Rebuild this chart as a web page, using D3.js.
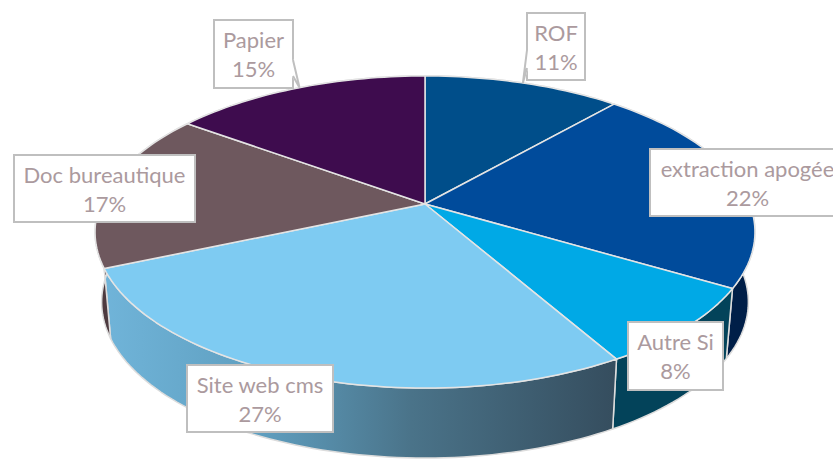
<!DOCTYPE html>
<html>
<head>
<meta charset="utf-8">
<style>
  html, body { margin: 0; padding: 0; background: #fff; overflow: hidden; }
  svg { display: block; }
  text { font-family: Lato, "Open Sans", sans-serif; }
</style>
<script src="https://cdn.jsdelivr.net/npm/d3@7"></script>
</head>
<body>
<svg></svg>
<script>
//Chart data
let categories = ['ROF', 'extraction apogée', 'Autre Si', 'Site web cms', 'Doc bureautique', 'Papier']
let values = [11.49, 22.01, 8.2, 26.8, 16.5, 15]
let percentLabels = ['11%', '22%', '8%', '27%', '17%', '15%']
let topColors = ['#004e8a', '#004b9b', '#00a9e6', '#7ecbf2', '#6e585e', '#3e0c4e']
let wallColors = ['#003a66', '#001f48', '#03435a', 'url(#siteWall)', '#4d3a3f', '#2b0836']

//Canvas size
let width = 833
let height = 459

//Perspective of the pie: back radius is shorter than the front one
let centerX = 425
let centerY = 204
let radiusX = 324.6
let radiusY = 151
let tilt = 0.1795
let depth = 70
let bottomShrink = 0.98

//Label boxes, in the same order as the categories: left, top, width, height
let labelBoxes = [
    [527, 13, 58, 67],
    [650, 149, 195, 67],
    [628, 322, 95, 68],
    [187, 365, 146, 67],
    [14, 155, 181, 67],
    [214, 20, 79, 68]
]

let svg = d3.select('svg')
    .attr('width', width)
    .attr('height', height)

//Turn a pie angle (0 = top, clockwise) into a point of the top face
let project = (angle) => {
    let w = 1 + tilt * Math.cos(angle)
    return [
        centerX + radiusX * Math.sin(angle) / w,
        centerY - radiusY * Math.cos(angle) / w
    ]
}

//Same point on the lower rim
let projectBottom = (angle) => {
    let p = project(angle)
    return [centerX + (p[0] - centerX) * bottomShrink, p[1] + depth]
}

let rimAngles = (slice) => {
    let steps = Math.ceil((slice.endAngle - slice.startAngle) * 40)
    return d3.range(steps + 1).map((i) => {
        return slice.startAngle + (slice.endAngle - slice.startAngle) * i / steps
    })
}

let closedLine = d3.line().curve(d3.curveLinearClosed)

let slices = d3.pie().sort(null).value((d) => d)(values)

//Gradient of the big front wall
let defs = svg.append('defs')
let gradient = defs.append('linearGradient')
    .attr('id', 'siteWall')
    .attr('gradientUnits', 'userSpaceOnUse')
    .attr('x1', project(slices[3].endAngle)[0])
    .attr('x2', project(slices[3].startAngle)[0])
    .attr('y1', 0)
    .attr('y2', 0)
gradient.selectAll('stop')
    .data([['0%', '#70b4d9'], ['30%', '#5f9fc0'], ['60%', '#4a7389'], ['100%', '#354d5e']])
    .enter()
    .append('stop')
    .attr('offset', (d) => d[0])
    .attr('stop-color', (d) => d[1])

//Walls first, the top face hides whatever lies behind it
svg.append('g')
    .selectAll('path')
    .data(slices)
    .enter()
    .append('path')
    .attr('d', (d) => {
        let angles = rimAngles(d)
        return closedLine(angles.map(project).concat(angles.slice().reverse().map(projectBottom)))
    })
    .attr('fill', (d, i) => wallColors[i])
    .attr('stroke', '#dcdcdc')
    .attr('stroke-width', 1.5)
    .attr('stroke-linejoin', 'round')

//Top face
svg.append('g')
    .selectAll('path')
    .data(slices)
    .enter()
    .append('path')
    .attr('d', (d) => {
        return closedLine([[centerX, centerY]].concat(rimAngles(d).map(project)))
    })
    .attr('fill', (d, i) => topColors[i])
    .attr('stroke', '#e4e4e4')
    .attr('stroke-width', 1.5)
    .attr('stroke-linejoin', 'round')

//Labels
let labels = svg.append('g')
    .selectAll('g')
    .data(categories)
    .enter()
    .append('g')
    .attr('transform', (d, i) => 'translate(' + labelBoxes[i][0] + ',' + labelBoxes[i][1] + ')')

labels.append('rect')
    .attr('width', (d, i) => labelBoxes[i][2])
    .attr('height', (d, i) => labelBoxes[i][3])
    .attr('fill', '#fff')
    .attr('stroke', '#bfbfbf')
    .attr('stroke-width', 2)

labels.append('text')
    .attr('x', (d, i) => labelBoxes[i][2] / 2)
    .attr('y', 28)
    .attr('text-anchor', 'middle')
    .attr('font-size', 22)
    .attr('fill', '#ab9a9e')
    .text((d) => d)

labels.append('text')
    .attr('x', (d, i) => labelBoxes[i][2] / 2)
    .attr('y', 57)
    .attr('text-anchor', 'middle')
    .attr('font-size', 22)
    .attr('fill', '#ab9a9e')
    .text((d, i) => percentLabels[i])

//Small callout tails of the two top labels, they open the box border
let tails = [
    [[527, 50], project(slices[0].startAngle + 0.36), [527, 68]],
    [[293, 60], project(slices[5].endAngle - 0.465), [293, 76]]
]
let tailGroup = svg.append('g')
tailGroup.selectAll('path.gap')
    .data(tails)
    .enter()
    .append('path')
    .attr('class', 'gap')
    .attr('d', (d) => closedLine(d))
    .attr('fill', '#fff')
    .attr('stroke', '#fff')
    .attr('stroke-width', 2)
tailGroup.selectAll('path.edge')
    .data(tails)
    .enter()
    .append('path')
    .attr('class', 'edge')
    .attr('d', (d) => d3.line()(d))
    .attr('fill', 'none')
    .attr('stroke', '#bfbfbf')
    .attr('stroke-width', 2)
</script>
</body>
</html>
